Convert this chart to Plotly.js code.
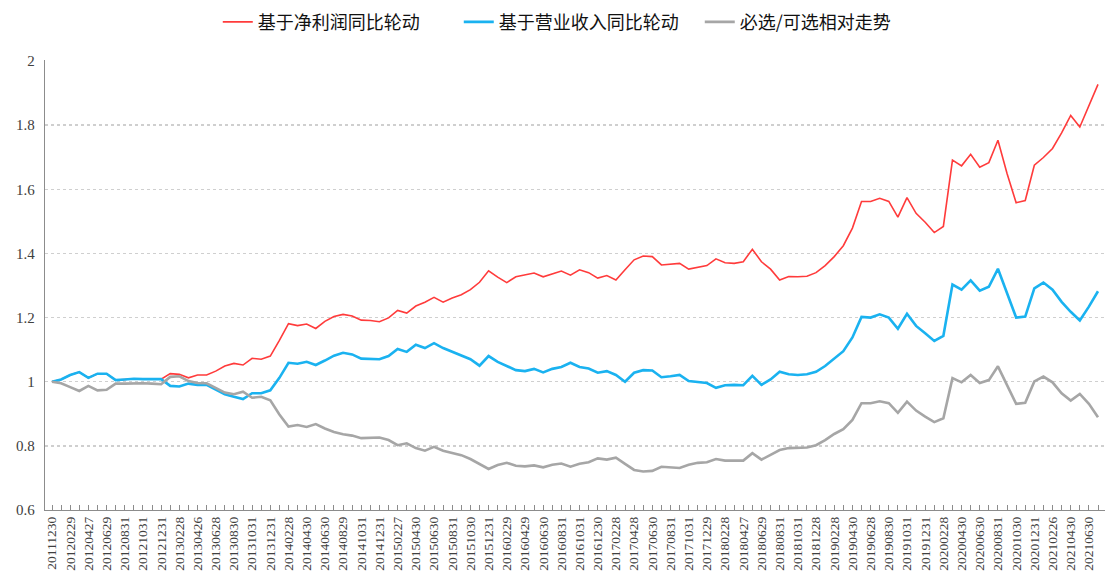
<!DOCTYPE html>
<html>
<head>
<meta charset="utf-8">
<script src="https://cdn.plot.ly/plotly-3.0.1.min.js"></script>
<style>html,body{margin:0;padding:0;background:#fff;}#chart{width:1113px;height:585px;}</style>
</head>
<body>
<div id="chart"></div>
<script>
const dates = [
"20111230","20120131","20120229","20120330","20120427","20120531","20120629","20120731","20120831","20120928",
"20121031","20121130","20121231","20130131","20130228","20130329","20130426","20130531","20130628","20130731",
"20130830","20130930","20131031","20131129","20131231","20140130","20140228","20140331","20140430","20140530",
"20140630","20140731","20140829","20140930","20141031","20141128","20141231","20150130","20150227","20150331",
"20150430","20150529","20150630","20150731","20150831","20150930","20151030","20151130","20151231","20160129",
"20160229","20160331","20160429","20160531","20160630","20160729","20160831","20160930","20161031","20161130",
"20161230","20170126","20170228","20170331","20170428","20170531","20170630","20170731","20170831","20170929",
"20171031","20171130","20171229","20180131","20180228","20180330","20180427","20180531","20180629","20180731",
"20180831","20180928","20181031","20181130","20181228","20190131","20190228","20190329","20190430","20190531",
"20190628","20190731","20190830","20190930","20191031","20191129","20191231","20200123","20200228","20200331",
"20200430","20200529","20200630","20200731","20200831","20200930","20201030","20201130","20201231","20210129",
"20210226","20210331","20210430","20210531","20210630","20210730"
];

const profitRotation = [
1.000,1.007,1.021,1.030,1.012,1.025,1.025,1.005,1.007,1.009,
1.008,1.008,1.008,1.025,1.023,1.012,1.021,1.021,1.033,1.049,
1.057,1.052,1.073,1.070,1.080,1.129,1.181,1.175,1.180,1.166,
1.188,1.203,1.210,1.205,1.192,1.191,1.187,1.199,1.222,1.214,
1.236,1.248,1.263,1.248,1.261,1.271,1.287,1.310,1.346,1.326,
1.309,1.327,1.332,1.339,1.327,1.337,1.345,1.332,1.349,1.340,
1.323,1.331,1.317,1.349,1.380,1.392,1.390,1.364,1.367,1.369,
1.351,1.357,1.362,1.383,1.371,1.369,1.374,1.413,1.374,1.351,
1.317,1.328,1.327,1.329,1.340,1.362,1.390,1.424,1.479,1.562,
1.562,1.572,1.562,1.513,1.574,1.525,1.497,1.465,1.484,1.691,
1.673,1.709,1.669,1.683,1.753,1.649,1.558,1.565,1.675,1.699,
1.727,1.776,1.830,1.794,1.858,1.927
];

const revenueRotation = [
1.000,1.007,1.021,1.030,1.012,1.025,1.025,1.005,1.007,1.009,
1.008,1.008,1.008,0.987,0.985,0.994,0.990,0.990,0.976,0.961,
0.953,0.946,0.964,0.964,0.973,1.012,1.059,1.056,1.062,1.052,
1.066,1.081,1.090,1.085,1.072,1.072,1.070,1.080,1.102,1.093,
1.115,1.105,1.120,1.105,1.093,1.083,1.070,1.050,1.080,1.062,
1.050,1.036,1.033,1.040,1.029,1.040,1.046,1.059,1.046,1.041,
1.028,1.033,1.021,1.000,1.028,1.036,1.035,1.014,1.017,1.021,
1.002,0.999,0.996,0.981,0.989,0.990,0.989,1.018,0.990,1.007,
1.031,1.023,1.021,1.023,1.031,1.049,1.072,1.095,1.138,1.202,
1.200,1.210,1.200,1.165,1.212,1.174,1.151,1.127,1.143,1.303,
1.287,1.316,1.284,1.296,1.352,1.275,1.200,1.203,1.291,1.309,
1.287,1.249,1.218,1.191,1.234,1.282
];

const stapleVsDiscretionary = [
1.000,0.995,0.983,0.971,0.987,0.973,0.975,0.994,0.994,0.995,
0.995,0.994,0.992,1.015,1.017,1.002,0.996,0.995,0.980,0.966,
0.961,0.969,0.950,0.953,0.942,0.898,0.860,0.865,0.859,0.868,
0.854,0.843,0.836,0.832,0.824,0.824,0.826,0.818,0.802,0.808,
0.793,0.785,0.797,0.785,0.777,0.771,0.759,0.744,0.728,0.740,
0.747,0.738,0.736,0.739,0.733,0.741,0.745,0.735,0.744,0.749,
0.761,0.757,0.763,0.744,0.725,0.720,0.722,0.735,0.733,0.731,
0.741,0.747,0.749,0.759,0.754,0.753,0.754,0.777,0.757,0.772,
0.787,0.793,0.793,0.795,0.802,0.818,0.837,0.852,0.881,0.933,
0.933,0.939,0.933,0.903,0.938,0.910,0.891,0.874,0.886,1.011,
0.998,1.021,0.996,1.005,1.048,0.988,0.931,0.934,1.001,1.016,
0.998,0.964,0.941,0.962,0.931,0.889
];

const seriesNames = ["基于净利润同比轮动","基于营业收入同比轮动","必选/可选相对走势"];
const yTickVals = [0.6, 0.8, 1.0, 1.2, 1.4, 1.6, 1.8, 2.0];
const yTickText = ["0.6", "0.8", "1", "1.2", "1.4", "1.6", "1.8", "2"];

const tickText = dates.map((d, i) => (i % 2 === 0 ? d : ""));

const traces = [
  {x: dates, y: profitRotation, name: seriesNames[0], type: "scatter", mode: "lines",
   line: {color: "#FF3B3B", width: 1.6}},
  {x: dates, y: revenueRotation, name: seriesNames[1], type: "scatter", mode: "lines",
   line: {color: "#1AB2F0", width: 2.6}},
  {x: dates, y: stapleVsDiscretionary, name: seriesNames[2], type: "scatter", mode: "lines",
   line: {color: "#A6A6A6", width: 2.6}}
];

const layout = {
  width: 1113, height: 585,
  margin: {l: 45, r: 8, t: 60, b: 75, autoexpand: false},
  paper_bgcolor: "#ffffff", plot_bgcolor: "#ffffff",
  showlegend: true,
  legend: {orientation: "h", x: 0.163, xanchor: "left", y: 1.084, yanchor: "middle",
           font: {family: "Noto Sans CJK SC", size: 18, color: "#111"},
           itemwidth: 30, tracegroupgap: 0,
           entrywidth: 196, entrywidthmode: "pixels"},
  xaxis: {
    type: "category",
    range: [-0.77, 115.77],
    tickmode: "array", tickvals: dates, ticktext: tickText,
    tickangle: -90,
    ticks: "inside", ticklen: 5, tickcolor: "#8c8c8c", tickwidth: 1,
    showline: true, linecolor: "#8c8c8c", linewidth: 1.3,
    showgrid: false, zeroline: false,
    tickfont: {family: "Liberation Serif", size: 13.5, color: "#404040"}
  },
  yaxis: {
    range: [0.6, 2.003],
    tickmode: "array", tickvals: yTickVals, ticktext: yTickText,
    showline: true, linecolor: "#8c8c8c", linewidth: 1.3,
    showgrid: true, gridcolor: "#cfcfcf", griddash: "dot", gridwidth: 1.5,
    zeroline: false, ticks: "", ticklabelstandoff: 6,
    tickfont: {family: "Liberation Serif", size: 15, color: "#404040"}
  }
};

Plotly.newPlot("chart", traces, layout, {displayModeBar: false, staticPlot: true});
</script>
</body>
</html>
